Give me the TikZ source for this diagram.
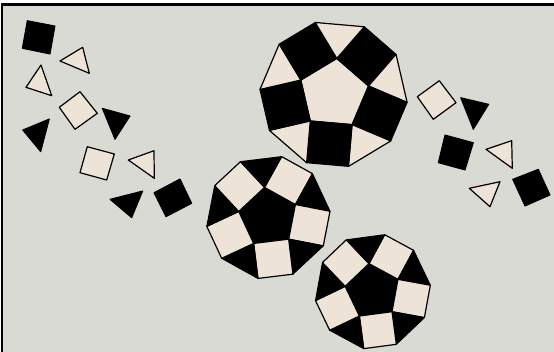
\documentclass[tikz,border=0pt]{standalone}
\usepackage{tikz}
\usetikzlibrary{calc}
\definecolor{ink}{HTML}{000000}
\definecolor{board}{HTML}{DADAD5}
\definecolor{cream}{HTML}{EDE3D7}
\tikzset{
  darkpiece/.style={fill=ink,draw=ink,line width=1pt,line join=round},
  lightpiece/.style={fill=cream,draw=ink,line width=1.2pt,line join=round},
  frameline/.style={draw=ink,line width=2.4pt}
}
% ring of pieces: centre x, centre y, pentagon radius, turn, pentagon, squares, triangles
\newcommand{\tilering}[7]{%
  \begin{scope}[shift={(#1,#2)},scale=#3]
    \filldraw[#5] (#4:1) -- (#4+72:1) -- (#4+144:1) -- (#4+216:1) -- (#4+288:1) -- cycle;
    \foreach \k in {0,...,4} {
      \pgfmathsetmacro{\ang}{#4+72*\k}
      \filldraw[#6] (\ang:1) -- (\ang+72:1) -- ++(\ang+36:1.1756) -- ++(\ang-54:1.1756) -- cycle;
      \filldraw[#7] (\ang+72:1) -- +(\ang+36:1.1756) -- +(\ang+108:1.1756) -- cycle;
    }
  \end{scope}}

\begin{document}
\begin{tikzpicture}[x=1pt,y=-1pt]
  \useasboundingbox (0,0) rectangle (554,351);
  \clip (0,0) rectangle (554,351);
  \fill[white] (0,0) rectangle (554,351);
  \fill[board] (2.2,4.5) rectangle (560,360);
  \draw[frameline] (560,4.5) -- (2.2,4.5) -- (2.2,360);

  % the three rings
  \tilering{333.7}{94}{35.7}{-85}{lightpiece}{darkpiece}{lightpiece}
  \tilering{268.2}{217.2}{30}{-97}{darkpiece}{lightpiece}{darkpiece}
  \tilering{372.7}{291.4}{28}{-97.6}{darkpiece}{lightpiece}{darkpiece}

  % loose pieces, left
  \filldraw[darkpiece] (27.3,20.7) -- (55,26) -- (50,54) -- (22.3,48.3) -- cycle;
  \filldraw[lightpiece] (60,61) -- (82.7,47.3) -- (89.3,73.3) -- cycle;
  \filldraw[lightpiece] (41,65) -- (26,87.3) -- (51.7,95.7) -- cycle;
  \filldraw[lightpiece] (59.3,107.3) -- (80,91.7) -- (97.3,113.3) -- (75,129.3) -- cycle;
  \filldraw[darkpiece] (102.3,108.3) -- (130,116) -- (115,139.3) -- cycle;
  \filldraw[darkpiece] (49.3,119) -- (22.7,130) -- (40.7,151.7) -- cycle;
  \filldraw[lightpiece] (80,172.7) -- (87.3,146.7) -- (114.3,154) -- (106.7,180) -- cycle;
  \filldraw[lightpiece] (128.3,160) -- (154,150.7) -- (154.3,178.3) -- cycle;
  \filldraw[darkpiece] (110,199.3) -- (142.7,191) -- (131.7,217.7) -- cycle;
  \filldraw[darkpiece] (154,192.7) -- (180,179) -- (191.7,203.3) -- (166,216.7) -- cycle;

  % loose pieces, right
  \filldraw[lightpiece] (417.3,96.7) -- (439.3,80.7) -- (456,102.7) -- (433.3,119.3) -- cycle;
  \filldraw[darkpiece] (460.7,97.7) -- (488.7,104.3) -- (473.3,129.3) -- cycle;
  \filldraw[darkpiece] (445,135) -- (473.3,142.7) -- (465,170) -- (438.3,162.7) -- cycle;
  \filldraw[lightpiece] (486,149.3) -- (511.7,140.7) -- (512.3,168.3) -- cycle;
  \filldraw[lightpiece] (469.3,188.3) -- (500,181.7) -- (490,206.7) -- cycle;
  \filldraw[darkpiece] (512.7,179.3) -- (538.3,169.3) -- (550,195) -- (525,206) -- cycle;
\end{tikzpicture}
\end{document}
